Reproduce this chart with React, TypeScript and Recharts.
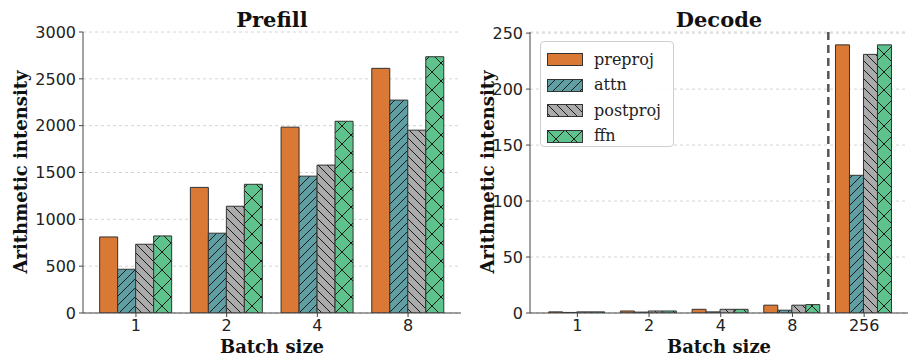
import React from 'react';
import { BarChart, Bar, XAxis, YAxis, CartesianGrid, ReferenceLine, Legend } from 'recharts';

// ---- data ----
const prefillBatches = ['1', '2', '4', '8'];
const prefillPreproj = [812, 1341, 1984, 2612];
const prefillAttn = [467, 852, 1461, 2273];
const prefillPostproj = [734, 1140, 1579, 1952];
const prefillFfn = [823, 1374, 2047, 2736];

const decodeBatches = ['1', '2', '4', '8', '256'];
const decodePreproj = [1, 1.8, 3.3, 7, 239.5];
const decodeAttn = [0.5, 0.8, 1, 2.5, 123];
const decodePostproj = [1, 1.8, 3.3, 7, 231];
const decodeFfn = [1, 1.8, 3.3, 7.5, 239.5];

const prefillTicks = [0, 500, 1000, 1500, 2000, 2500, 3000];
const decodeTicks = [0, 50, 100, 150, 200, 250];
const seriesNames = ['preproj', 'attn', 'postproj', 'ffn'];

const prefillData = prefillBatches.map((b, i) => ({
  batch: b,
  preproj: prefillPreproj[i],
  attn: prefillAttn[i],
  postproj: prefillPostproj[i],
  ffn: prefillFfn[i],
}));
const decodeData = decodeBatches.map((b, i) => ({
  batch: b,
  preproj: decodePreproj[i],
  attn: decodeAttn[i],
  postproj: decodePostproj[i],
  ffn: decodeFfn[i],
}));

// ---- styles ----
const SERIF = "'DejaVu Serif', serif";
const SANS = "'DejaVu Sans', sans-serif";
const fills: Record<string, string> = {
  preproj: '#DA7936',
  attn: 'url(#hatch-attn)',
  postproj: 'url(#hatch-postproj)',
  ffn: 'url(#hatch-ffn)',
};
const C_ATTN = '#5F9EA3';
const C_POST = '#ABABAB';
const C_FFN = '#5EC28C';
const EDGE = '#333333';
const HATCH = '#1a1a1a';

const Patterns = () => (
  <svg width={0} height={0} style={{ position: 'absolute' }}>
    <defs>
      <pattern id="hatch-attn" patternUnits="userSpaceOnUse" width={9} height={9}>
        <rect width={9} height={9} fill={C_ATTN} />
        <path d="M0,9 L9,0 M-1,1 L1,-1 M8,10 L10,8" stroke={HATCH} strokeWidth={1} />
      </pattern>
      <pattern id="hatch-postproj" patternUnits="userSpaceOnUse" width={9} height={9}>
        <rect width={9} height={9} fill={C_POST} />
        <path d="M0,0 L9,9 M-1,8 L1,10 M8,-1 L10,1" stroke={HATCH} strokeWidth={1} />
      </pattern>
      <pattern id="hatch-ffn" patternUnits="userSpaceOnUse" width={18} height={18}>
        <rect width={18} height={18} fill={C_FFN} />
        <path d="M0,18 L18,0 M0,0 L18,18 M-1,1 L1,-1 M17,19 L19,17 M-1,17 L1,19 M17,-1 L19,1" stroke={HATCH} strokeWidth={1} />
      </pattern>
    </defs>
  </svg>
);

const tickStyle = { fontFamily: SANS, fontSize: 16, fill: '#222' };
const labelStyle = { fontFamily: SERIF, fontSize: 18, fontWeight: 'bold', fill: '#111' } as const;
const titleStyle = { fontFamily: SERIF, fontSize: 21, fontWeight: 'bold', fill: '#111' } as const;
const AXIS = '#444';

const renderBars = () =>
  seriesNames.map((k) => (
    <Bar key={k} dataKey={k} name={k} fill={fills[k]} stroke={EDGE} strokeWidth={1} isAnimationActive={false} />
  ));

const LegendBox = () => (
  <div
    style={{
      width: 134,
      height: 106,
      border: '1px solid #cfcfcf',
      borderRadius: 4,
      background: 'rgba(255,255,255,0.85)',
      boxSizing: 'border-box',
      paddingTop: 5,
    }}
  >
    {seriesNames.map((k) => (
      <div key={k} style={{ display: 'flex', alignItems: 'center', height: 25.5, paddingLeft: 6 }}>
        <svg width={36} height={13} style={{ display: 'block' }}>
          <rect x={0.5} y={0.5} width={35} height={12} fill={fills[k]} stroke={EDGE} strokeWidth={1} />
        </svg>
        <span style={{ fontFamily: SERIF, fontSize: 16, color: '#222', marginLeft: 11, lineHeight: '16px' }}>{k}</span>
      </div>
    ))}
  </div>
);

export default function App() {
  return (
    <div style={{ position: 'absolute', left: 0, top: 0, width: 910, height: 357, background: '#fff' }}>
      <Patterns />
      <div style={{ position: 'absolute', left: 0, top: 0 }}>
        <BarChart
          width={470}
          height={357}
          data={prefillData}
          margin={{ top: 32, right: 9, bottom: 0, left: 0 }}
          barCategoryGap="10%"
          barGap={0}
        >
          <CartesianGrid vertical={false} stroke="#d4d4d4" strokeDasharray="3 3" />
          <XAxis
            dataKey="batch"
            height={44}
            padding={{ left: 7.6, right: 7.6 }}
            tick={tickStyle}
            tickSize={4}
            tickMargin={3}
            stroke={AXIS}
            interval={0}
          />
          <XAxis xAxisId="top" dataKey="batch" orientation="top" height={0} tick={false} tickLine={false} stroke={AXIS} />
          <YAxis
            width={83}
            domain={[0, 3000]}
            ticks={prefillTicks}
            tick={tickStyle}
            tickSize={4}
            tickMargin={3}
            stroke={AXIS}
            allowDataOverflow
          />
          <YAxis yAxisId="right" orientation="right" width={0} tick={false} tickLine={false} stroke={AXIS} />
          {renderBars()}
          <text x={272} y={27} textAnchor="middle" style={titleStyle}>Prefill</text>
          <text x={272} y={353} textAnchor="middle" style={labelStyle}>Batch size</text>
          <text x={20} y={172} textAnchor="middle" dominantBaseline="central" transform="rotate(-90 20 172)" style={labelStyle}>
            Arithmetic intensity
          </text>
        </BarChart>
      </div>
      <div style={{ position: 'absolute', left: 470, top: 0 }}>
        <BarChart
          width={440}
          height={357}
          data={decodeData}
          margin={{ top: 32, right: 2, bottom: 0, left: 0 }}
          barCategoryGap="10%"
          barGap={0}
        >
          <CartesianGrid vertical={false} stroke="#d4d4d4" strokeDasharray="3 3" />
          <XAxis
            dataKey="batch"
            height={44}
            padding={{ left: 11.5, right: 8 }}
            tick={tickStyle}
            tickSize={4}
            tickMargin={3}
            stroke={AXIS}
            interval={0}
          />
          <XAxis xAxisId="top" dataKey="batch" orientation="top" height={0} tick={false} tickLine={false} stroke={AXIS} />
          <YAxis
            width={60}
            domain={[0, 251]}
            ticks={decodeTicks}
            tick={tickStyle}
            tickSize={4}
            tickMargin={3}
            stroke={AXIS}
            allowDataOverflow
          />
          <YAxis yAxisId="right" orientation="right" width={0} tick={false} tickLine={false} stroke={AXIS} />
          {renderBars()}
          <ReferenceLine x="8" position="end" stroke="#555" strokeWidth={2.5} strokeDasharray="8 5" />
          <Legend
            layout="vertical"
            align="center"
            verticalAlign="middle"
            content={() => <LegendBox />}
            wrapperStyle={{ left: 70, top: 41, width: 134, height: 106 }}
          />
          <text x={249} y={27} textAnchor="middle" style={titleStyle}>Decode</text>
          <text x={249} y={353} textAnchor="middle" style={labelStyle}>Batch size</text>
          <text x={17} y={172} textAnchor="middle" dominantBaseline="central" transform="rotate(-90 17 172)" style={labelStyle}>
            Arithmetic intensity
          </text>
        </BarChart>
      </div>
    </div>
  );
}
